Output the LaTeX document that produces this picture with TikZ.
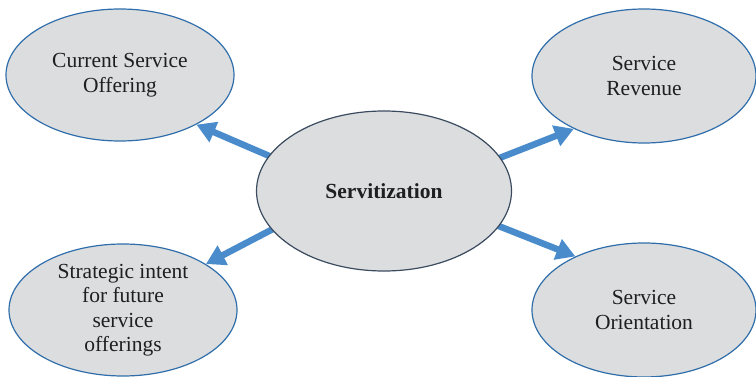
\documentclass[tikz,border=0pt]{standalone}
\usepackage{fontspec}
\setmainfont{Liberation Serif}
\usetikzlibrary{
	shapes.geometric,
	arrows.meta,
	backgrounds
}
\definecolor{ringblue}{HTML}{2F6EAB}
\definecolor{coreline}{HTML}{3B4B5F}
\definecolor{bubblegray}{HTML}{DCDDDF}
\definecolor{arrowblue}{HTML}{4A8CCB}
\tikzset{
	bubble/.style={
		ellipse, draw=ringblue, fill=bubblegray, line width=1.2pt,
		inner sep=0pt, align=center, text=black!88,
		font=\fontsize{21.5}{24.5}\selectfont
	},
	core/.style={
		bubble, draw=coreline,
		font=\fontsize{21.5}{24.5}\selectfont\bfseries
	},
	every edge/.append style={
		draw=arrowblue, line width=6.5pt,
		-{Triangle[length=19pt,width=21pt]},
		shorten <=-5pt
	}
}

\begin{document}
\begin{tikzpicture}[x=1pt,y=-1pt]
	\useasboundingbox (0,0) rectangle (756,377);
	\draw
		node[core,minimum width=255pt,minimum height=160pt]   (serv)   at (384,191) {Servitization}
		node[bubble,minimum width=228pt,minimum height=132pt] (cur)    at (120,75)  {Current Service\\Offering}
		node[bubble,minimum width=224pt,minimum height=134pt] (rev)    at (644,76)  {Service\\Revenue}
		node[bubble,minimum width=228pt,minimum height=132pt] (strat)  at (123,310) {Strategic intent\\for future\\service\\offerings}
		node[bubble,minimum width=224pt,minimum height=134pt] (orient) at (644,310) {Service\\Orientation}
	;
	\begin{scope}[on background layer]
		\draw
			(serv.163) edge (cur.-33)
			(serv.16)  edge (rev.217)
			(serv.199) edge (strat.29)
			(serv.-17) edge (orient.142)
		;
	\end{scope}
\end{tikzpicture}
\end{document}
